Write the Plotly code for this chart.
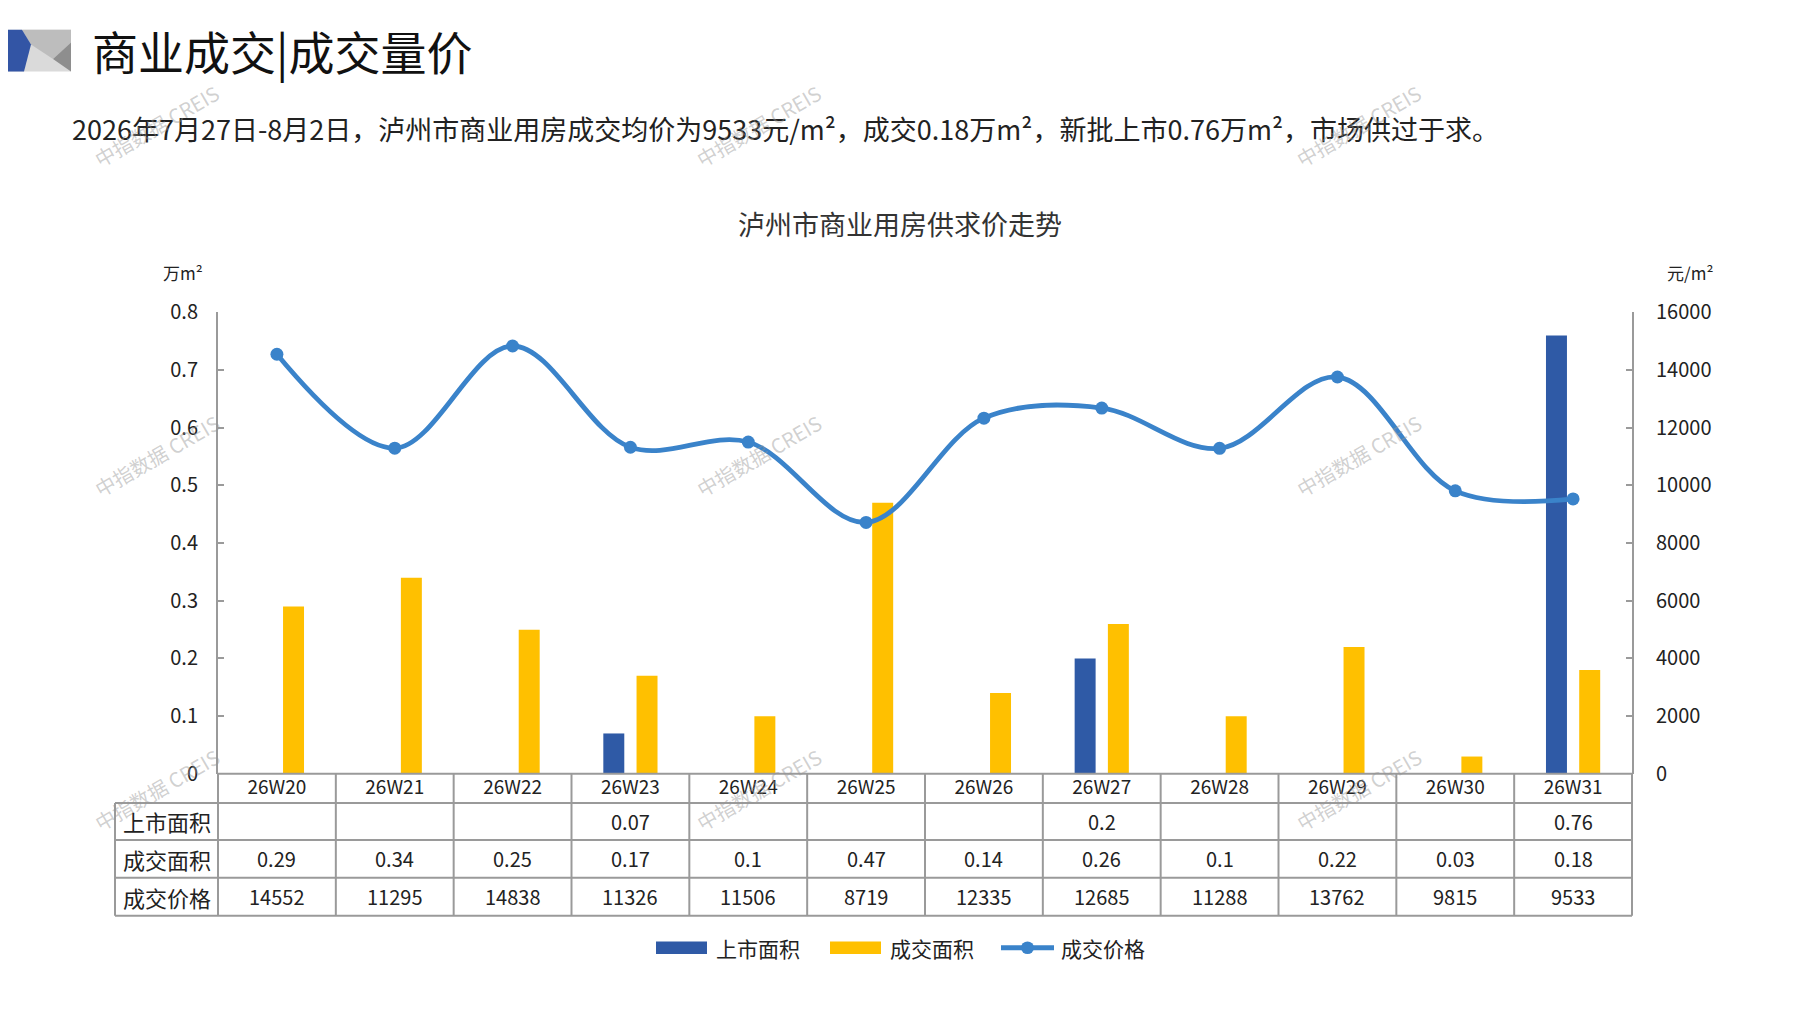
"""
泸州市商业用房供求价走势 — 柱线组合图 + 底部数据表
"""

import plotly.graph_objects as go

# ── 数据 ─────────────────────────────────────────────────────────────
weeks       = ["26W20", "26W21", "26W22", "26W23", "26W24", "26W25",
               "26W26", "26W27", "26W28", "26W29", "26W30", "26W31"]
supply_area = [None, None, None, 0.07, None, None, None, 0.2, None, None, None, 0.76]
deal_area   = [0.29, 0.34, 0.25, 0.17, 0.1, 0.47, 0.14, 0.26, 0.1, 0.22, 0.03, 0.18]
deal_price  = [14552, 11295, 14838, 11326, 11506, 8719, 12335, 12685, 11288, 13762, 9815, 9533]
row_names   = ["上市面积", "成交面积", "成交价格"]
left_ticks  = [0, 0.1, 0.2, 0.3, 0.4, 0.5, 0.6, 0.7, 0.8]
left_labels = ["0", "0.1", "0.2", "0.3", "0.4", "0.5", "0.6", "0.7", "0.8"]

# ── 尺寸 / 样式 ──────────────────────────────────────────────────────
W, H = 1797, 1010
PLOT_L, PLOT_R = 210, 1624
PLOT_T, PLOT_B = 297, 772
TABLE_L = 107
ROW_LINES = [772, 802, 840, 879, 918]   # 表格横线（像素）

C_BLUE   = "#2F5AA6"
C_YELLOW = "#FFC000"
C_LINE   = "#3A83CA"
C_GRID   = "#9A9A9A"
FONT     = "Noto Sans CJK SC"


def px(x, y):
    """像素坐标 → paper 坐标"""
    return x / W, 1 - y / H


fig = go.Figure()

fig.add_trace(go.Bar(
    x=weeks, y=supply_area, name="上市面积",
    marker=dict(color=C_BLUE, line=dict(width=0)),
    width=0.178, offset=-0.23,
))
fig.add_trace(go.Bar(
    x=weeks, y=deal_area, name="成交面积",
    marker=dict(color=C_YELLOW, line=dict(width=0)),
    width=0.178, offset=0.052,
))
fig.add_trace(go.Scatter(
    x=weeks, y=deal_price, name="成交价格", yaxis="y2",
    mode="lines+markers",
    line=dict(color=C_LINE, width=4.8, shape="spline", smoothing=1.0),
    marker=dict(color=C_LINE, size=13),
))

# ── 表头装饰 / 标题 ───────────────────────────────────────────────────
shapes = []
DX, DY = -9, -21   # 装饰块整体偏移


def poly(points, color):
    pts = [px(x + DX, y + DY) for x, y in points]
    path = "M " + " L ".join(f"{a},{b}" for a, b in pts) + " Z"
    shapes.append(dict(type="path", path=path, xref="paper", yref="paper",
                       fillcolor=color, line=dict(width=0), layer="above"))


poly([(0, 27), (72, 27), (72, 70), (0, 70)], "#DADADA")
poly([(23, 27), (72, 27), (72, 40), (54, 57), (32, 42)], "#BDBDBD")
poly([(72, 40), (54, 57), (72, 70)], "#8E8E8E")
poly([(0, 27), (23, 27), (32, 42), (25, 70), (0, 70)], "#3355A5")

annotations = []


def text(x, y, s, size, color="#222222", xanchor="center", **kw):
    ax, ay = px(x, y)
    annotations.append(dict(x=ax, y=ay, xref="paper", yref="paper", text=s,
                            showarrow=False, xanchor=xanchor, yanchor="middle",
                            font=dict(family=FONT, size=size, color=color), **kw))


text(82, 27, "商业成交|成交量价", 46, "#111111", xanchor="left")
text(62, 108,
     "2026年7月27日-8月2日，泸州市商业用房成交均价为9533元/m²，成交0.18万m²，"
     "新批上市0.76万m²，市场供过于求。", 27, "#222222", xanchor="left")
text(892, 205, "泸州市商业用房供求价走势", 27, "#333333")
text(175, 256, "万m²", 17)
text(1682, 256, "元/m²", 17)

# 水印
for wx in (149, 751, 1351):
    for wy in (105, 444, 788):
        text(wx, wy, "中指数据 CREIS", 20, "rgba(150,150,150,0.45)", textangle=-30)

# ── 数据表 ────────────────────────────────────────────────────────────
col_w = (PLOT_R - PLOT_L) / len(weeks)
for i, yy in enumerate(ROW_LINES):
    x0 = PLOT_L if i == 0 else TABLE_L
    a0, b0 = px(x0, yy)
    a1, _ = px(PLOT_R, yy)
    shapes.append(dict(type="line", xref="paper", yref="paper", x0=a0, x1=a1, y0=b0, y1=b0,
                       line=dict(color=C_GRID, width=2), layer="above"))
for k in range(len(weeks) + 1):
    xx = PLOT_L + k * col_w
    a0, b0 = px(xx, ROW_LINES[0])
    _, b1 = px(xx, ROW_LINES[-1])
    shapes.append(dict(type="line", xref="paper", yref="paper", x0=a0, x1=a0, y0=b0, y1=b1,
                       line=dict(color=C_GRID, width=2), layer="above"))
a0, b0 = px(TABLE_L, ROW_LINES[1])
_, b1 = px(TABLE_L, ROW_LINES[-1])
shapes.append(dict(type="line", xref="paper", yref="paper", x0=a0, x1=a0, y0=b0, y1=b1,
                   line=dict(color=C_GRID, width=2), layer="above"))

rows = [supply_area, deal_area, deal_price]
for r, (name, vals) in enumerate(zip(row_names, rows)):
    yc = (ROW_LINES[r + 1] + ROW_LINES[r + 2]) / 2
    text((TABLE_L + PLOT_L) / 2, yc, name, 22)
    for wk, v in zip(weeks, vals):
        if v is None:
            continue
        annotations.append(dict(x=wk, xref="x", y=px(0, yc)[1], yref="paper",
                                text=str(v), showarrow=False, yanchor="middle",
                                font=dict(family=FONT, size=20, color="#222222")))

# ── 图例（手绘，宽色块） ─────────────────────────────────────────────
LEG_Y = 951
legend_items = [("上市面积", C_BLUE, "bar", 657), ("成交面积", C_YELLOW, "bar", 831),
                ("成交价格", C_LINE, "line", 1002)]
for name, color, kind, lx in legend_items:
    lx -= 9
    if kind == "bar":
        a0, b0 = px(lx, LEG_Y - 6.5)
        a1, b1 = px(lx + 51, LEG_Y + 6.5)
        shapes.append(dict(type="rect", xref="paper", yref="paper", x0=a0, x1=a1, y0=b1, y1=b0,
                           fillcolor=color, line=dict(width=0)))
    else:
        a0, b0 = px(lx, LEG_Y)
        a1, _ = px(lx + 53, LEG_Y)
        shapes.append(dict(type="line", xref="paper", yref="paper", x0=a0, x1=a1, y0=b0, y1=b0,
                           line=dict(color=color, width=5)))
        c0, d0 = px(lx + 26.5 - 6.5, LEG_Y - 6.5)
        c1, d1 = px(lx + 26.5 + 6.5, LEG_Y + 6.5)
        shapes.append(dict(type="circle", xref="paper", yref="paper", x0=c0, x1=c1, y0=d1, y1=d0,
                           fillcolor=color, line=dict(width=0)))
    text(lx + 58, LEG_Y, name, 21, xanchor="left")

# ── 布局 ──────────────────────────────────────────────────────────────
fig.update_layout(
    width=W, height=H,
    margin=dict(l=0, r=0, t=0, b=0),
    paper_bgcolor="white",
    plot_bgcolor="white",
    font=dict(family=FONT, size=19, color="#222222"),
    barmode="overlay",
    showlegend=False,
    xaxis=dict(
        domain=[px(PLOT_L, 0)[0], px(PLOT_R, 0)[0]],
        range=[-0.5, len(weeks) - 0.5],
        showline=False, showgrid=False, zeroline=False,
        ticks="", tickfont=dict(size=19),
    ),
    yaxis=dict(
        domain=[px(0, PLOT_B)[1], px(0, PLOT_T)[1]],
        range=[0, 0.8], tickvals=left_ticks, ticktext=left_labels,
        showgrid=False, zeroline=False,
        showline=True, linecolor=C_GRID, linewidth=2,
        ticks="inside", ticklen=6, tickcolor=C_GRID, tickwidth=2,
        tickfont=dict(size=20), ticklabelstandoff=14,
    ),
    yaxis2=dict(
        overlaying="y", side="right", anchor="x",
        range=[0, 16000], dtick=2000, tickformat="d",
        showgrid=False, zeroline=False,
        showline=True, linecolor=C_GRID, linewidth=2,
        ticks="inside", ticklen=6, tickcolor=C_GRID, tickwidth=2,
        tickfont=dict(size=20), ticklabelstandoff=18,
    ),
    shapes=shapes,
    annotations=annotations,
)

fig.write_html("out.html")
